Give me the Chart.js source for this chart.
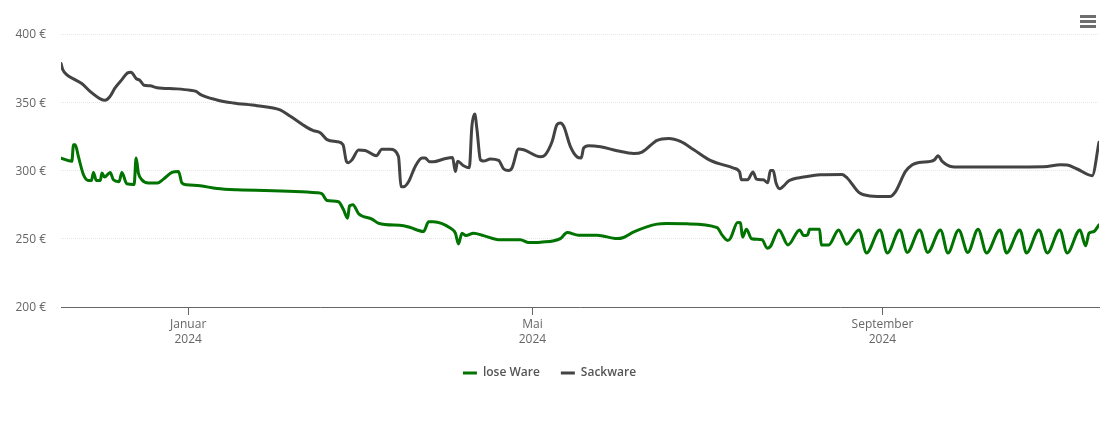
<!DOCTYPE html>
<html><head><meta charset="utf-8">
<script src="https://cdn.jsdelivr.net/npm/chart.js@4/dist/chart.umd.min.js"></script>
<style>
html,body{margin:0;padding:0;background:#fff}
#wrap{position:relative;width:1110px;height:422px}
canvas{position:absolute;left:0;top:0}
.menu{position:absolute;left:1080px;width:16px;height:3px;background:#6e6e6e}
</style></head><body>
<div id="wrap"><canvas id="c" width="1110" height="422"></canvas>
<div class="menu" style="top:15px"></div><div class="menu" style="top:20px"></div><div class="menu" style="top:25px"></div></div>
<script>
const seriesNames = ["lose Ware","Sackware"];
const tickDays = [0,121,244];
const tickLabels = [["Januar","2024"],["Mai","2024"],["September","2024"]];
const yTicks = [200,250,300,350,400];
const loseDays = [-44.7,-40.9,-40.3,-39.7,-38.6,-36.8,-35.1,-34,-33.3,-32.3,-30.9,-30.3,-29.4,-27.4,-26.3,-24.3,-23.3,-21.6,-19,-18.3,-17.5,-16.3,-14,-10.8,-8.7,-5.7,-3.4,-2.2,-0.5,4.2,10.1,17.1,45.3,47,48.8,52.8,54.6,56,56.7,57.9,59.9,64.6,66.9,75.7,78.1,82.7,84.5,86.2,92.1,93.9,95,96.2,97.6,100.3,103.8,109.7,116.7,119.7,123.8,130.8,133.2,137.2,143.7,150.7,153,156.6,164.8,168.3,175.3,185.9,187.6,189.6,190.6,193.1,194.1,194.8,196.2,198,201.7,203.5,204.6,207.6,210.8,214.9,216.3,217.7,218.4,221.9,222.5,225.1,228.6,231.4,235.7,238.4,243.1,245.7,250.1,252.7,257.1,259.9,264.4,267,270.8,274,277.6,280.6,285.3,287.6,292.3,294.6,299,301.9,306.3,308.9,313.4,315.4,316.6,318.3,320.1];
const loseValues = [309.1,306.7,318.9,318.9,310.3,296.9,292.7,292.7,298.6,292.7,292.7,298.1,295.2,298.6,293.2,291.8,298.6,290.3,289.8,309.1,298.1,293.2,290.8,290.8,293.7,298.6,299.3,290.8,289.5,288.8,286.8,285.9,283.7,282.9,278,277.1,271.2,265.1,274.1,274.9,268.3,264.4,261.4,259.5,258.2,255.3,262.4,262.4,257.8,254.1,246.2,254.1,252.3,254.1,252.3,249.2,249.2,247.2,247.5,250.1,254.5,252.6,252.6,250.1,250.9,255,260.7,261.1,260.9,258.2,252.8,248.7,250.4,261.9,261.7,251.2,257,250,249.2,243.1,244.3,256.5,245.5,256.5,252.3,252.8,257,257,245.5,245.5,256.5,246,256.5,239.6,256.5,239.6,256.5,240,256.5,240,256.5,239.6,256.5,240,257,239.6,256.5,239.6,256.5,239.6,256.5,239.6,256.5,239.6,256.5,244.8,254.1,255.3,260.2];
const sackDays = [-44.7,-44.1,-42.7,-40.3,-37.4,-34.5,-30.9,-29.2,-27.7,-25.7,-23.3,-21.3,-20.1,-18.3,-16.9,-15.5,-13.4,-11,-4,0.7,2.8,4.2,10.1,15.8,24.2,32.3,35.9,41.7,44,46.4,48.8,52.3,54.4,55.6,56.3,57.6,59.9,62.2,66.1,68.1,71,73.9,74.8,75.7,77.5,79.8,82.2,83.3,84.8,86.2,89.8,92.9,93.9,94.7,96.8,98.8,99.7,100.7,101.5,102.7,103.8,106.2,109.1,110.9,112.6,113.8,116.1,117.9,123.8,125.5,127.9,129.6,130.8,132,134.3,136.7,138.1,139,140.7,144.9,150.7,156.6,159.5,164.8,168.9,173,177.7,183.5,191.7,193.8,194.4,196.6,198.5,199.7,202.1,203.7,204.6,205.6,206.6,207.9,209.1,211.1,216.3,222.2,229.8,231.6,235.7,237.4,242.1,246.6,248.6,252.1,254.5,256.8,260.9,262.3,263.5,265,268.5,272.6,300.7,306.6,308.9,312.4,317.7,320.1];
const sackValues = [378.4,374,370.3,367.1,363.7,358,352.5,351.4,353.6,360.5,366.6,371.5,372,367.4,365.9,362.4,362,360.7,359.8,358.8,358,355.8,351.7,349.5,347.5,344.4,339.7,331.6,329.2,327.7,322.6,321.1,318.9,306.7,305.7,307.9,315,314.7,310.8,315.5,315.5,310.3,288.3,288.1,292,303,309.1,309.1,306.4,306.4,308.4,309.6,299.3,306.7,303.5,302,332.3,341.4,329.9,307.9,306.9,308.4,307.4,301.1,300,301.8,315.8,315.2,310.1,311.6,321.3,333.6,334.8,332.3,317.7,309.9,309.1,316.5,318.2,317.4,314.5,312.5,313.5,322.1,323.5,321.3,315.2,307.4,301.8,298.9,293.2,293.2,298.9,293.7,293.2,291,300,300,290.8,286.6,288.3,292.5,295.2,296.9,297.1,294.5,283.9,282.2,281,281,284.6,299.3,304.2,305.9,306.7,307.9,310.8,306.7,302.8,302.5,302.8,304.2,304,301.1,296.2,320.6];

const pts = (xs,ys)=>xs.map((x,i)=>({x,y:ys[i]}));
const font = "'Open Sans'";
new Chart(document.getElementById('c'),{
  type:'line',
  data:{datasets:[
    {label:seriesNames[0],data:pts(loseDays,loseValues),borderColor:'#007300',backgroundColor:'#007300',borderWidth:3,pointRadius:0,cubicInterpolationMode:'monotone',borderCapStyle:'round',borderJoinStyle:'round'},
    {label:seriesNames[1],data:pts(sackDays,sackValues),borderColor:'#434343',backgroundColor:'#434343',borderWidth:3,pointRadius:0,cubicInterpolationMode:'monotone',borderCapStyle:'round',borderJoinStyle:'round'}
  ]},
  options:{
    responsive:false,animation:false,devicePixelRatio:1,
    layout:{padding:{top:34,right:11,bottom:33,left:0}},
    plugins:{tooltip:{enabled:false},legend:{position:'bottom',
      labels:{usePointStyle:true,pointStyle:'line',pointStyleWidth:14,boxHeight:12,padding:21,color:'#555',font:{family:font,size:12,weight:'600'}}}},
    scales:{
      x:{type:'linear',min:-44.7,max:320.1,
        afterBuildTicks:s=>{s.ticks=tickDays.map(v=>({value:v}));},
        afterFit:s=>{s.height=39;},
        grid:{drawOnChartArea:false,drawTicks:true,tickLength:8,tickColor:'#666',tickWidth:1},
        border:{color:'#666',width:1},
        ticks:{autoSkip:false,maxRotation:0,padding:2,color:'#666',font:{family:font,size:12,lineHeight:1.25},
          callback:v=>tickLabels[tickDays.indexOf(v)]}},
      y:{min:200,max:400,
        afterBuildTicks:s=>{s.ticks=yTicks.map(v=>({value:v}));},
        afterFit:s=>{s.width=61;},
        grid:{color:'#e6e6e6',lineWidth:1,drawTicks:false},
        border:{display:false,dash:[1,1]},
        ticks:{padding:15,labelOffset:1,color:'#666',font:{family:font,size:12},callback:v=>v+' €'}}
    }
  }
});
</script></body></html>
